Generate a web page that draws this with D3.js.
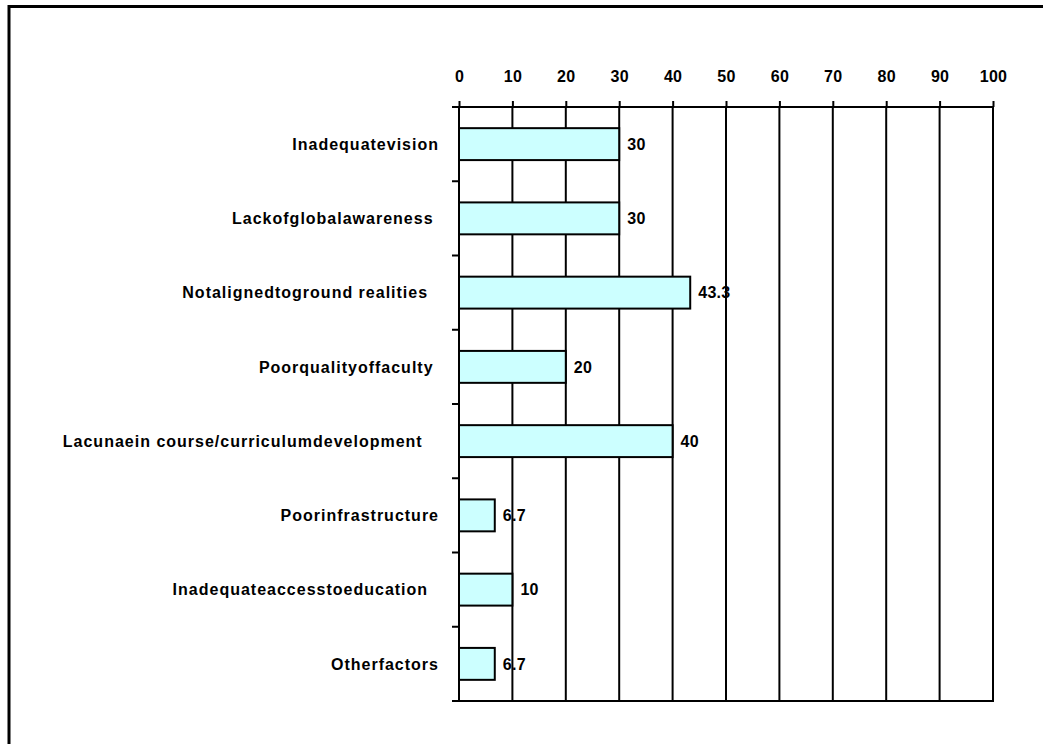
<!DOCTYPE html>
<html>
<head>
<meta charset="utf-8">
<script src="https://cdn.jsdelivr.net/npm/d3@7"></script>
<style>
  html, body { margin: 0; padding: 0; background: #fff; }
  svg { display: block; }
  text { font-family: "Liberation Sans", Arial, sans-serif; font-weight: bold; font-size: 16px; letter-spacing: 0.3px; fill: #000; white-space: pre; }
  text.cat { letter-spacing: 1px; }
</style>
</head>
<body>
<svg id="chart" width="1043" height="744"></svg>
<script>
const categories = [
  "Inadequatevision",
  "Lackofglobalawareness ",
  "Notalignedtoground realities  ",
  "Poorqualityoffaculty ",
  "Lacunaein course/curriculumdevelopment   ",
  "Poorinfrastructure",
  "Inadequateaccesstoeducation  ",
  "Otherfactors"
];
const values = [30, 30, 43.3, 20, 40, 6.7, 10, 6.7];
const valueLabels = ["30", "30", "43.3", "20", "40", "6.7", "10", "6.7"];
const tickValues = [0, 10, 20, 30, 40, 50, 60, 70, 80, 90, 100];

(function () {
const svg = d3.select("#chart");

// outer frame
svg.append("rect")
  .attr("x", 9).attr("y", 6.5)
  .attr("width", 1045).attr("height", 745)
  .attr("fill", "none").attr("stroke", "#000").attr("stroke-width", 3);

const pLeft = 459, pRight = 993, pTop = 107, pBottom = 701;

const x = d3.scaleLinear().domain([0, 100]).range([pLeft, pRight]);
const y = d3.scaleBand().domain(categories).range([pTop, pBottom])
  .paddingInner(0.57).paddingOuter(0.285);

// vertical gridlines
svg.selectAll("line.grid").data(tickValues).join("line")
  .attr("class", "grid")
  .attr("x1", d => x(d)).attr("x2", d => x(d))
  .attr("y1", pTop).attr("y2", pBottom)
  .attr("stroke", "#000").attr("stroke-width", 2);

// top axis with ticks upward
const topAxis = d3.axisTop(x).tickValues(tickValues).tickSize(6).tickPadding(19).tickSizeOuter(0);
const ta = svg.append("g").attr("transform", `translate(0,${pTop})`).call(topAxis);
ta.select(".domain").remove();
ta.selectAll(".tick line").attr("stroke", "#000").attr("stroke-width", 2);
ta.selectAll(".tick text").attr("fill", "#000");
ta.attr("font-size", null).attr("font-family", null);

// top and bottom horizontal lines, extended left
[pTop, pBottom].forEach(yy => {
  svg.append("line").attr("x1", pLeft - 7).attr("x2", pRight + 1)
    .attr("y1", yy).attr("y2", yy)
    .attr("stroke", "#000").attr("stroke-width", 2);
});

// left ticks at band boundaries
const step = y.step();
const boundaries = d3.range(categories.length + 1).map(i => pTop + i * step);
svg.selectAll("line.ytick").data(boundaries).join("line")
  .attr("class", "ytick")
  .attr("x1", pLeft - 7).attr("x2", pLeft)
  .attr("y1", d => d).attr("y2", d => d)
  .attr("stroke", "#000").attr("stroke-width", 2);

// bars
svg.selectAll("rect.bar").data(values).join("rect")
  .attr("class", "bar")
  .attr("x", x(0))
  .attr("y", (d, i) => y(categories[i]))
  .attr("width", d => x(d) - x(0))
  .attr("height", y.bandwidth())
  .attr("fill", "#CCFFFF")
  .attr("stroke", "#000").attr("stroke-width", 2);

// value labels
svg.selectAll("text.val").data(values).join("text")
  .attr("class", "val")
  .attr("x", d => x(d) + 8)
  .attr("y", (d, i) => y(categories[i]) + y.bandwidth() / 2)
  .attr("dy", "0.36em")
  .text((d, i) => valueLabels[i]);

// category labels
svg.selectAll("text.cat").data(categories).join("text")
  .attr("class", "cat")
  .attr("x", pLeft - 20)
  .attr("y", d => y(d) + y.bandwidth() / 2)
  .attr("dy", "0.36em")
  .attr("text-anchor", "end")
  .text(d => d);
})();
</script>
</body>
</html>
